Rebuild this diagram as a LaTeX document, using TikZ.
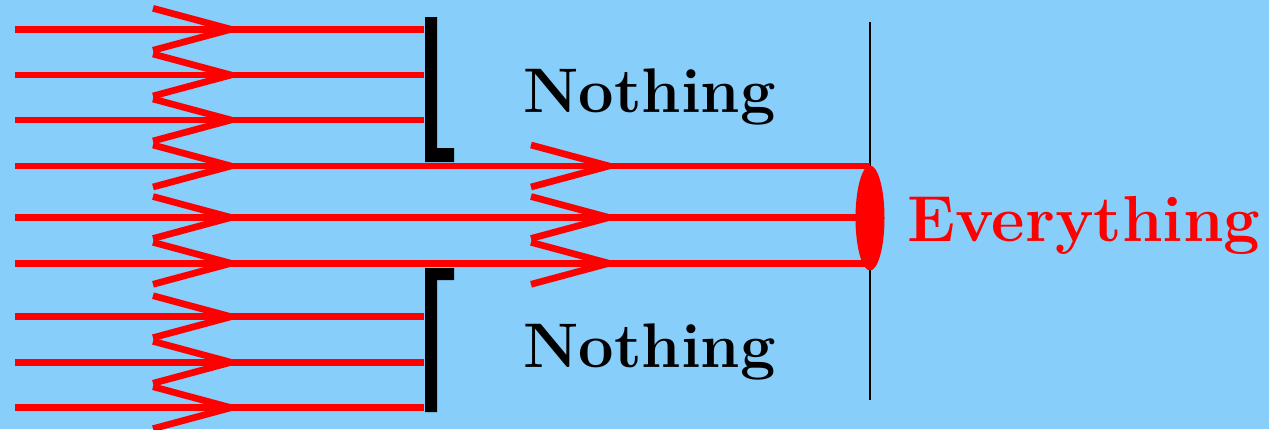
\documentclass[tikz,border=0pt]{standalone}
\usepackage{fontspec}
\setmainfont{Latin Modern Roman}
\usetikzlibrary{calc,shapes.geometric}
\definecolor{bgblue}{RGB}{135,206,250}
\definecolor{rayred}{RGB}{255,0,0}
\begin{document}
\begin{tikzpicture}[x=1pt,y=-1pt,
  ray/.style={draw=rayred,line width=6.7pt,line cap=butt},
  chev/.style={draw=rayred,line width=6.7pt,line cap=butt,line join=miter},
  lbl/.style={inner sep=0pt,anchor=base west,font=\fontsize{63}{70}\selectfont\bfseries}]
\fill[bgblue] (0,0) rectangle (1269,429);
\useasboundingbox (0,0) rectangle (1269,429);
% screen line
\coordinate (st) at (870,22);
\coordinate (sb) at (870,400);
\draw[black,line width=2pt] (st) -- (sb);
% rays
\foreach \i/\y/\e in {1/29.3/424,2/75/424,3/120/424,4/166/870,5/217.5/870,6/263.3/870,7/316.7/424,8/362.3/424,9/407.7/424}{
  \coordinate (s\i) at (15,\y);
  \coordinate (e\i) at (\e,\y);
  \draw[ray] (s\i) -- (e\i);
  \draw[chev] ($(153,\y)+(0,-21)$) -- (231,\y) -- ($(153,\y)+(0,21)$);
}
\foreach \y in {166,217.5,263.3}{
  \draw[chev] ($(531,\y)+(0,-21)$) -- (609,\y) -- ($(531,\y)+(0,21)$);
}
% slit brackets
\fill[black] (425,17) -- (437,17) -- (437,148) -- (454,148) -- (454,162) -- (425,162) -- cycle;
\fill[black] (425,412) -- (437,412) -- (437,280) -- (454,280) -- (454,268) -- (425,268) -- cycle;
% spot
\node[ellipse,fill=rayred,minimum width=29pt,minimum height=105pt,inner sep=0pt] (spot) at (870,218) {};
% labels
\node[lbl,text=black] (n1) at (523,112) {Nothing};
\node[lbl,text=black] (n2) at (523,367) {Nothing};
\node[lbl,text=rayred,font=\fontsize{65}{70}\selectfont\bfseries] (ev) at (907,241) {Everything};
\end{tikzpicture}
\end{document}
